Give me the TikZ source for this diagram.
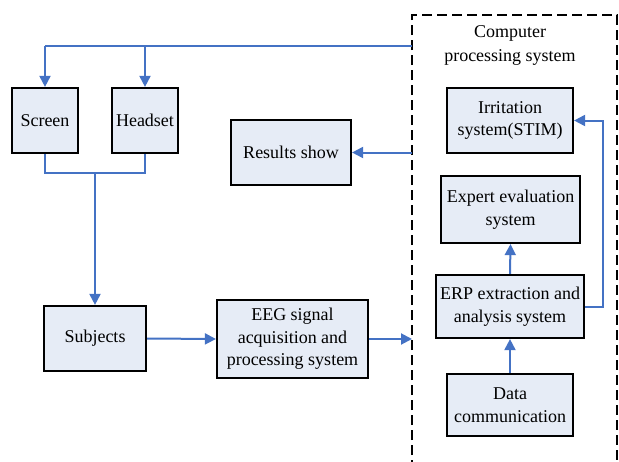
\documentclass[tikz,border=0pt]{standalone}
\usepackage{fontspec}
\setmainfont{Liberation Serif}
\usetikzlibrary{arrows.meta}
\definecolor{lineblue}{HTML}{4472C4}
\definecolor{boxfill}{HTML}{E6ECF6}
\tikzset{
  blk/.style={draw=black, line width=2.2pt, fill=boxfill, align=center, inner sep=0pt,
    font=\fontsize{18}{22.5}\selectfont},
  conn/.style={draw=lineblue, line width=2pt},
  arr/.style={conn, -{Triangle[length=11pt,width=11pt]}},
}
\begin{document}
\begin{tikzpicture}[x=1pt,y=-1pt]
\useasboundingbox (0,0) rectangle (619,461);
% dashed system boundary
\draw[line width=2pt, dash pattern=on 10pt off 5pt] (412,470) -- (412,15) -- (617,15) -- (617,470);
\node[font=\fontsize{18}{24}\selectfont, align=center] (title) at (510,45.5) {Computer\\processing system};
% boxes
\node[blk, minimum width=66pt, minimum height=65pt] (screen) at (45,120.5) {Screen};
\node[blk, minimum width=66pt, minimum height=65pt] (headset) at (145,120.5) {Headset};
\node[blk, minimum width=120pt, minimum height=65pt] (results) at (291,152.5) {Results show};
\node[blk, minimum width=102pt, minimum height=65pt] (subjects) at (95,338.5) {Subjects};
\node[blk, minimum width=151pt, minimum height=78pt] (eeg) at (292.5,339) {EEG signal\\acquisition and\\processing system};
\node[blk, minimum width=126pt, minimum height=65pt] (stim) at (510,120.5) {Irritation\\system(STIM)};
\node[blk, minimum width=139pt, minimum height=67pt] (expert) at (510.5,209.5) {Expert evaluation\\system};
\node[blk, minimum width=148pt, minimum height=63pt] (erp) at (510,306.5) {ERP extraction and\\analysis system};
\node[blk, minimum width=126pt, minimum height=62pt] (data) at (510,405) {Data\\communication};
% coordinates on the boundary
\coordinate (btop) at (412,46);
\coordinate (bres) at (412,152.5);
\coordinate (beeg) at (412,339);
\coordinate (join) at (95,173);
\coordinate (stimr) at (603,120.5);
% connectors
\draw[conn] (btop) -- (45,46);
\draw[arr] (45,46) -- (screen.north);
\draw[arr] (145,46) -- (headset.north);
\draw[conn] (screen.south) |- (join);
\draw[conn] (headset.south) |- (join);
\draw[arr] (join) -- (subjects.north);
\draw[arr] (subjects.east) -- (eeg.west);
\draw[arr] (eeg.east) -- (beeg);
\draw[arr] (bres) -- (results.east);
\draw[arr] (data.north) -- (erp.south);
\draw[arr] (erp.north) -- (expert.south);
\draw[arr] (erp.east) -| (stimr) -- (stim.east);
\end{tikzpicture}
\end{document}
